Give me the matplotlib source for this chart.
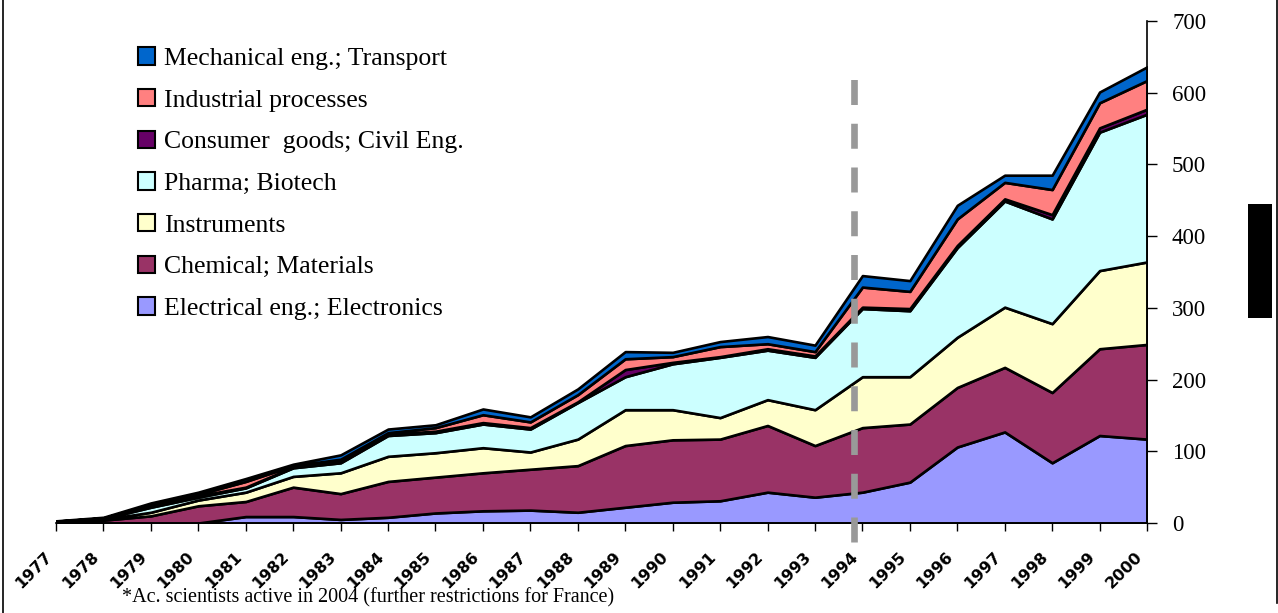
import matplotlib
matplotlib.use("Agg")
import matplotlib.pyplot as plt
from matplotlib.patches import Patch, Rectangle
from matplotlib.lines import Line2D
from matplotlib.transforms import ScaledTranslation

plt.rcParams['lines.scale_dashes'] = False

years = list(range(1977, 2001))
year_labels = [str(y) for y in years]

series_names = [
    "Electrical eng.; Electronics",
    "Chemical; Materials",
    "Instruments",
    "Pharma; Biotech",
    "Consumer  goods; Civil Eng.",
    "Industrial processes",
    "Mechanical eng.; Transport",
]
colors = ["#9999FF", "#993366", "#FFFFCC", "#CCFFFF", "#660066", "#FF8080", "#0066CC"]

electrical = [0, 0, 0, 0, 9, 9, 5, 8, 14, 17, 18, 15, 22, 29, 31, 43, 36, 43, 57, 106, 127, 84, 122, 117]
chemical   = [1, 4, 10, 24, 21, 41, 36, 50, 50, 53, 57, 65, 86, 87, 86, 93, 72, 90, 81, 83, 90, 98, 121, 132]
instruments = [0.5, 1, 5, 8, 13, 15, 29, 35, 34, 35, 24, 37, 50, 42, 30, 36, 50, 71, 66, 70, 84, 96, 109, 115]
pharma     = [0.5, 1, 7, 4, 6, 12, 14, 29, 28, 33, 32, 51, 46, 64, 84, 69, 73, 95, 92, 125, 148, 146, 193, 206]
consumer   = [0, 0.5, 2, 2, 1, 1, 2, 2, 2, 2, 2, 1, 10, 2, 1, 2, 2, 2, 3, 3, 3, 6, 6, 7]
industrial = [0.5, 0.5, 2, 2, 8, 2, 3, 2, 5, 11, 8, 10, 15, 8, 14, 7, 6, 28, 24, 37, 23, 35, 35, 40]
mechanical = [0.5, 1, 2, 3, 4, 2, 6, 5, 4, 8, 7, 8, 10, 6, 7, 10, 9, 16, 15, 19, 10, 20, 15, 19]

y_ticks = [0, 100, 200, 300, 400, 500, 600, 700]
marker_year = 1993.83
footnote = "*Ac. scientists active in 2004 (further restrictions for France)"

W, H = 1278, 613
fig = plt.figure(figsize=(W / 100, H / 100), dpi=100)
ax = fig.add_axes([56 / W, (H - 523) / H, (1147 - 56) / W, (523 - 21) / H])

data = [electrical, chemical, instruments, pharma, consumer, industrial, mechanical]
ax.stackplot(years, *data, colors=colors, edgecolor="black", linewidth=1.9, zorder=2)

ax.set_xlim(1977, 2000)
ax.set_ylim(0, 700)

for s in ["left", "top"]:
    ax.spines[s].set_visible(False)
ax.spines["bottom"].set_linewidth(1.2)
ax.spines["right"].set_linewidth(1.2)
ax.spines["right"].set_zorder(3)

ax.yaxis.tick_right()
ax.set_yticks(y_ticks)
ax.set_yticklabels([str(v) for v in y_ticks], fontfamily="Liberation Serif", fontsize=16.5)
ax.tick_params(axis="y", direction="out", length=7, width=1.0, pad=11, right=True, left=False)

ax.set_xticks(years)
ax.set_xticklabels(year_labels, rotation=45, ha="right", va="top", rotation_mode="anchor",
                   fontsize=11.5, fontweight="bold", fontfamily="DejaVu Sans")
ax.tick_params(axis="x", direction="out", length=6, width=1.0, pad=13)
shift = ScaledTranslation(-12 / 100, 0, fig.dpi_scale_trans)
for lbl in ax.get_xticklabels():
    lbl.set_transform(lbl.get_transform() + shift)

ax.plot([marker_year, marker_year], [-27, 627], color="#999999", linewidth=4.8,
        dashes=(18, 13.5), clip_on=False, zorder=4, solid_capstyle="butt", dash_capstyle="butt")

handles = [Patch(facecolor=c, edgecolor="black", linewidth=1.5) for c in colors[::-1]]
leg = fig.legend(handles, series_names[::-1], loc="upper left",
                 bbox_to_anchor=(128 / W, 1 - 37 / H), frameon=False,
                 prop={"family": "Liberation Serif", "size": 18.5},
                 handlelength=0.66, handleheight=0.66, handletextpad=0.35,
                 labelspacing=0.74, borderaxespad=0)

fig.text(122 / W, 1 - 598 / H, footnote, ha="left", va="center",
         fontfamily="Liberation Serif", fontsize=14.5)

fig.add_artist(Line2D([3 / W, 3 / W], [0, 1], color="black", linewidth=1.2))
fig.add_artist(Line2D([1277 / W, 1277 / W], [1 - 603 / H, 1], color="black", linewidth=1.2))
fig.add_artist(Rectangle((1248 / W, 1 - 318 / H), 24 / W, 114 / H, facecolor="black",
                         edgecolor="none", transform=fig.transFigure))

fig.savefig("out.png", dpi=100)
